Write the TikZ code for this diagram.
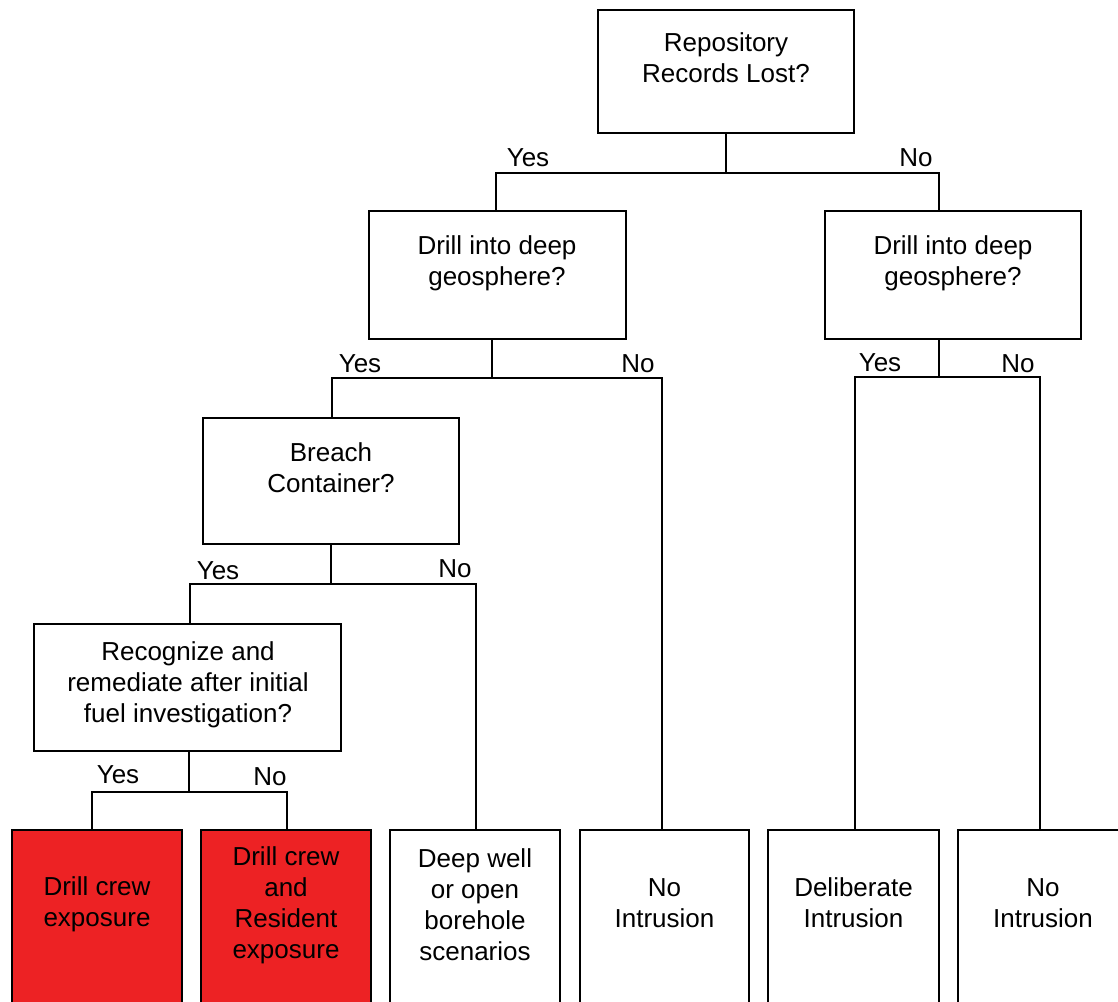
\documentclass[tikz,border=0pt]{standalone}
\usepackage{fontspec}
\setmainfont{Liberation Sans}
\definecolor{alarm}{RGB}{237,34,36}
\begin{document}
\begin{tikzpicture}[x=1pt,y=-1pt,
  box/.style={draw=black, line width=1.5pt, fill=white, rectangle, inner sep=0pt},
  outcome/.style={box, minimum width=170pt, minimum height=200pt},
  hot/.style={outcome, fill=alarm},
  txt/.style={align=center, inner sep=0pt, font=\fontsize{26}{31}\selectfont},
  lbl/.style={inner sep=0pt, font=\fontsize{26}{31}\selectfont},
  wire/.style={line width=1.5pt, line cap=rect}]
\useasboundingbox (0,0) rectangle (1118,1001);
\clip (0,0) rectangle (1118,1001);

% decision boxes
\node[box, minimum width=256pt, minimum height=123pt] (q1) at (726,71.5) {};
\node[txt] (q1t) at (726,58) {Repository\\Records Lost?};

\node[box, minimum width=257pt, minimum height=128pt] (q2) at (497.5,275) {};
\node[txt] (q2t) at (497,263) {Drill into deep\\geosphere?};

\node[box, minimum width=256pt, minimum height=128pt] (q3) at (953,275) {};
\node[txt] (q3t) at (953,263) {Drill into deep\\geosphere?};

\node[box, minimum width=256pt, minimum height=126pt] (q4) at (331,481) {};
\node[txt] (q4t) at (331,468) {Breach\\Container?};

\node[box, minimum width=307pt, minimum height=127pt] (q5) at (187.5,687.5) {};
\node[txt] (q5t) at (188,684.5) {Recognize and\\remediate after initial\\fuel investigation?};

% junction points of the branches
\coordinate (j1) at (726,173);  \coordinate (j1l) at (496,173);  \coordinate (j1r) at (939,173);
\coordinate (j2) at (492,378);  \coordinate (j2l) at (332,378);  \coordinate (j2r) at (662,378);
\coordinate (j3) at (939,377);  \coordinate (j3l) at (855,377);  \coordinate (j3r) at (1040,377);
\coordinate (j4) at (331,584);  \coordinate (j4l) at (190,584);  \coordinate (j4r) at (476,584);
\coordinate (j5) at (189,792);  \coordinate (j5l) at (92,792);   \coordinate (j5r) at (287,792);

% outcome boxes (run past the lower edge)
\node[hot] (e1) at (97,930) {};
\node[txt] (e1t) at (97,904) {Drill crew\\exposure};
\node[hot] (e2) at (286,930) {};
\node[txt] (e2t) at (286,905) {Drill crew\\and\\Resident\\exposure};
\node[outcome] (e3) at (475,930) {};
\node[txt] (e3t) at (475,905) {Deep well\\or open\\borehole\\scenarios};
\node[outcome, minimum width=169pt] (e4) at (664.5,930) {};
\node[txt] (e4t) at (664.5,903) {No\\Intrusion};
\node[outcome, minimum width=171pt] (e5) at (853.5,930) {};
\node[txt] (e5t) at (853.5,903) {Deliberate\\Intrusion};
\node[outcome] (e6) at (1043,930) {};
\node[txt] (e6t) at (1043,903) {No\\Intrusion};

% connectors
\draw[wire] (q1.south) -- (j1);
\draw[wire] (j1l |- q2.north) -- (j1l) -- (j1r) -- (j1r |- q3.north);

\draw[wire] (j2 |- q2.south) -- (j2);
\draw[wire] (j2l |- q4.north) -- (j2l) -- (j2r) -- (j2r |- e4.north);

\draw[wire] (j3 |- q3.south) -- (j3);
\draw[wire] (j3l |- e5.north) -- (j3l) -- (j3r) -- (j3r |- e6.north);

\draw[wire] (j4 |- q4.south) -- (j4);
\draw[wire] (j4l |- q5.north) -- (j4l) -- (j4r) -- (j4r |- e3.north);

\draw[wire] (j5 |- q5.south) -- (j5);
\draw[wire] (j5l |- e1.north) -- (j5l) -- (j5r) -- (j5r |- e2.north);

% branch labels
\node[lbl] (y1) at (528,158) {Yes};
\node[lbl] (n1) at (916,158) {No};
\node[lbl] (y2) at (360,364) {Yes};
\node[lbl] (n2) at (638,364) {No};
\node[lbl] (y3) at (880,363) {Yes};
\node[lbl] (n3) at (1018,364) {No};
\node[lbl] (y4) at (218,571) {Yes};
\node[lbl] (n4) at (455,569) {No};
\node[lbl] (y5) at (118,775) {Yes};
\node[lbl] (n5) at (270,777) {No};
\end{tikzpicture}
\end{document}
